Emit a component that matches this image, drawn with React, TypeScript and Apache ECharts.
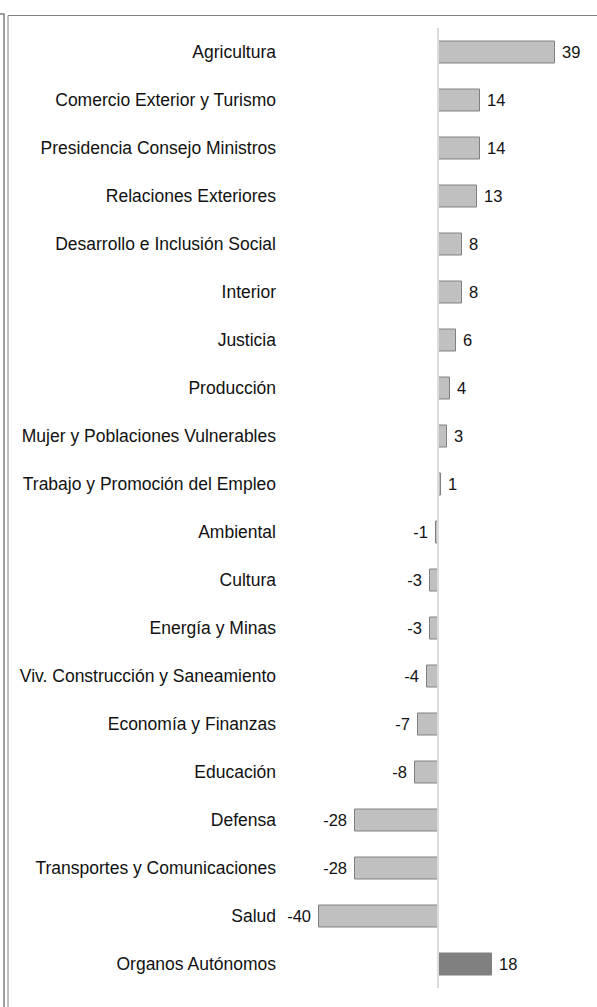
import React, { useEffect, useRef } from "react";
import * as echarts from "echarts";

const categories = [
  "Agricultura",
  "Comercio Exterior y Turismo",
  "Presidencia Consejo Ministros",
  "Relaciones Exteriores",
  "Desarrollo e Inclusión Social",
  "Interior",
  "Justicia",
  "Producción",
  "Mujer y Poblaciones Vulnerables",
  "Trabajo y Promoción del Empleo",
  "Ambiental",
  "Cultura",
  "Energía y Minas",
  "Viv. Construcción y Saneamiento",
  "Economía y Finanzas",
  "Educación",
  "Defensa",
  "Transportes y Comunicaciones",
  "Salud",
  "Organos Autónomos",
];

const values = [39, 14, 14, 13, 8, 8, 6, 4, 3, 1, -1, -3, -3, -4, -7, -8, -28, -28, -40, 18];

const highlighted = ["Organos Autónomos"];

const titleText = "(En puntos porcentuales, variación 2021 respecto a 2020)";

export default function App() {
  const ref = useRef<HTMLDivElement>(null);

  useEffect(() => {
    if (!ref.current) return;
    const chart = echarts.init(ref.current, null, { renderer: "svg" });
    const font = "'Liberation Sans', Arial, sans-serif";
    chart.setOption({
      animation: false,
      backgroundColor: "#ffffff",
      grid: { left: 318, right: 39, top: 28, bottom: 19, containLabel: false },
      xAxis: {
        type: "value",
        min: -40,
        max: 40,
        show: false,
      },
      yAxis: {
        type: "category",
        inverse: true,
        data: categories,
        axisLine: { show: false },
        axisTick: { show: false },
        splitLine: { show: false },
        axisLabel: {
          margin: 42,
          color: "#111111",
          fontSize: 17.5,
          fontFamily: font,
        },
      },
      series: [
        {
          type: "bar",
          barWidth: 23,
          data: values.map((v, i) => {
            const hi = highlighted.includes(categories[i]);
            return {
              value: v,
              itemStyle: hi
                ? { color: "#808080", borderColor: "#808080", borderWidth: 1 }
                : { color: "#c0c0c0", borderColor: "#808080", borderWidth: 1 },
              label: {
                show: true,
                position: v >= 0 ? "right" : "left",
                distance: 7,
                formatter: String(v),
                color: "#111111",
                fontSize: 16.5,
                fontFamily: font,
              },
            };
          }),
          markLine: {
            silent: true,
            symbol: "none",
            label: { show: false },
            lineStyle: { color: "#dcdcdc", width: 2, type: "solid" },
            data: [{ xAxis: 0 }],
          },
        },
      ],
      graphic: [
        {
          type: "text",
          left: "center",
          top: -17,
          style: {
            text: titleText,
            fill: "#000000",
            fontSize: 16,
            fontFamily: font,
          },
        },
        {
          type: "polyline",
          shape: { points: [[0, 14], [4, 14], [4, 1007]] },
          style: { stroke: "#7f7f7f", lineWidth: 1.5, fill: "none" },
        },
        {
          type: "polyline",
          shape: { points: [[8, 1007], [8, 15.5], [597, 15.5]] },
          style: { stroke: "#808080", lineWidth: 1, fill: "none" },
        },
      ],
    });
    return () => chart.dispose();
  }, []);

  return (
    <div
      ref={ref}
      style={{ position: "fixed", left: 0, top: 0, width: 597, height: 1007 }}
    />
  );
}
